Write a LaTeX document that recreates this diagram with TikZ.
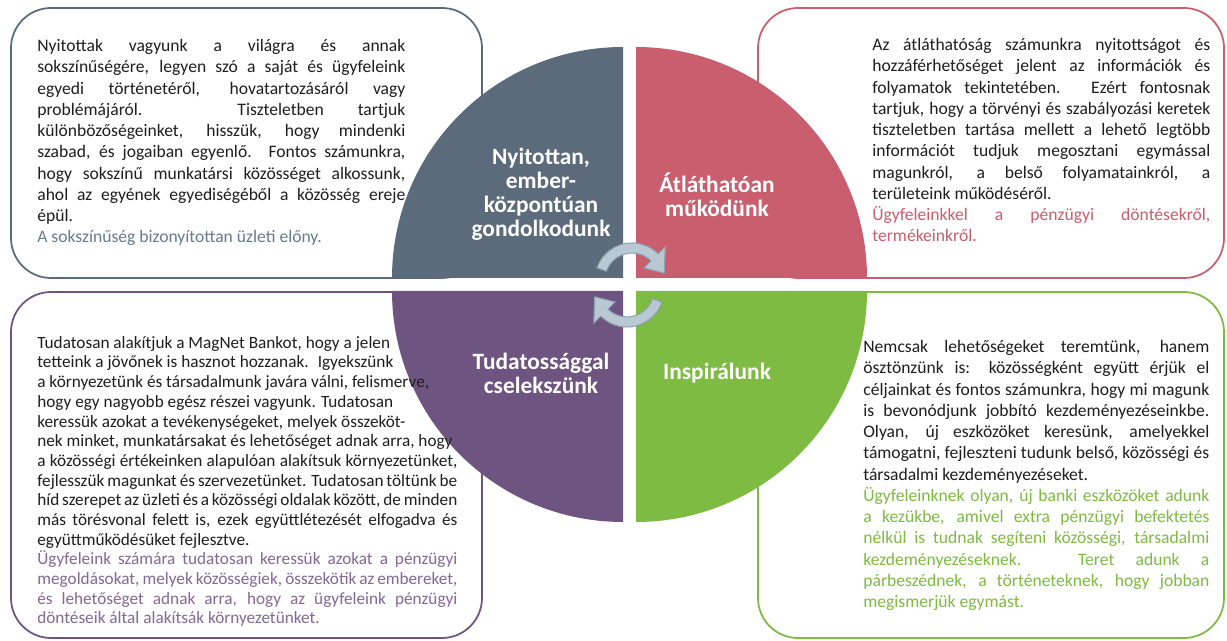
\documentclass[tikz,border=0pt]{standalone}
\usepackage{fontspec}
\setmainfont{Carlito}
\usetikzlibrary{positioning}

\definecolor{slate}{RGB}{91,107,123}
\definecolor{rose}{RGB}{201,94,110}
\definecolor{plum}{RGB}{110,84,128}
\definecolor{leaf}{RGB}{125,187,66}
\definecolor{ink}{RGB}{30,30,30}
\definecolor{slatetext}{RGB}{100,124,143}
\definecolor{plumtext}{RGB}{132,104,150}
\definecolor{arrowfill}{RGB}{186,200,212}
\definecolor{arrowline}{RGB}{140,160,178}

% justified box text, spaces may shrink a bit, no hyphenation
\newcommand\boxfont[2]{\fontsize{#1}{#2}\selectfont
  \spaceskip=.226em plus .6em minus .16em\relax
  \hyphenpenalty=10000\relax}

\tikzset{
  box/.style={line width=1pt, rounded corners=0.8cm, fill=white},
  body/.style={anchor=north west, inner sep=0pt, align=justify, text=ink,
    font=\boxfont{10}{12.1}},
  head/.style={text=white, align=center, inner sep=0pt,
    font=\bfseries\fontsize{13.3}{13.6}\selectfont},
  turn/.style={fill=arrowfill, draw=arrowline, line width=0.6pt}
}

\begin{document}
\begin{tikzpicture}
\useasboundingbox (0,0) rectangle (24.54,12.82);

%outer boxes
\draw[box, draw=slate] (0.22,7.26) rectangle (9.64,12.66);
\draw[box, draw=rose] (15.16,7.26) rectangle (24.48,12.66);
\draw[box, draw=plum] (0.22,0.06) rectangle (9.64,6.98);
\draw[box, draw=leaf] (15.16,0.06) rectangle (24.48,6.98);

%circle quarters
\fill[slate] (12.46,7.26) -- (7.84,7.26) arc (180:90:4.62) -- cycle;
\fill[rose] (12.72,7.26) -- (17.34,7.26) arc (0:90:4.62) -- cycle;
\fill[plum] (12.46,7.00) -- (7.84,7.00) arc (180:270:4.62) -- cycle;
\fill[leaf] (12.72,7.00) -- (17.34,7.00) arc (0:-90:4.62) -- cycle;

%quarter titles
\node[head] (open) at (10.82,8.94) {Nyitottan,\\ember-\\központúan\\gondolkodunk};
\node[head] (clear) at (14.34,8.92) {Átláthatóan\\működünk};
\node[head] (aware) at (10.82,5.36) {Tudatossággal\\cselekszünk};
\node[head] (inspire) at (14.34,5.36) {Inspirálunk};

%turning arrows
\begin{scope}[shift={(12.64,7.22)}]
\filldraw[turn] (161:0.74) arc (161:45:0.74) -- (45:0.94) -- (12:0.66)
  -- (45:0.34) -- (45:0.54) arc (45:161:0.54) -- cycle;
\end{scope}
\begin{scope}[shift={(12.54,7.02)}, rotate=180]
\filldraw[turn] (161:0.74) arc (161:45:0.74) -- (45:0.94) -- (12:0.66)
  -- (45:0.34) -- (45:0.54) arc (45:161:0.54) -- cycle;
\end{scope}

%box texts
\node[body, text width=7.36cm] (opentext) at (0.74,12.04) {Nyitottak vagyunk a világra és annak\linebreak
sokszínűségére, legyen szó a saját és ügyfeleink\linebreak
egyedi történetéről, hovatartozásáról vagy\linebreak
problémájáról. Tiszteletben tartjuk\linebreak
különbözőségeinket, hisszük, hogy mindenki\linebreak
szabad, és jogaiban egyenlő. Fontos számunkra,\linebreak
hogy sokszínű munkatársi közösséget alkossunk,\linebreak
ahol az egyének egyediségéből a közösség ereje\linebreak
épül.\par
{\color{slatetext}A sokszínűség bizonyítottan üzleti előny.}};

\node[body, text width=6.76cm] (cleartext) at (17.44,12.06) {Az átláthatóság számunkra nyitottságot és\linebreak
hozzáférhetőséget jelent az információk és\linebreak
folyamatok tekintetében. Ezért fontosnak\linebreak
tartjuk, hogy a törvényi és szabályozási keretek\linebreak
tiszteletben tartása mellett a lehető legtöbb\linebreak
információt tudjuk megosztani egymással\linebreak
magunkról, a belső folyamatainkról, a\linebreak
területeink működéséről.\par
{\color{rose}Ügyfeleinkkel a pénzügyi döntésekről,\linebreak
termékeinkről.}};

\node[body, text width=8.4cm, font=\boxfont{9.8}{11.2}] (awaretext) at (0.74,6.10) {Tudatosan alakítjuk a MagNet Bankot, hogy a jelen\\
tetteink a jövőnek is hasznot hozzanak.~ Igyekszünk\\
a környezetünk és társadalmunk javára válni, felismerve,\\
hogy egy nagyobb egész részei vagyunk. Tudatosan\\
keressük azokat a tevékenységeket, melyek összeköt-\\
nek minket, munkatársakat és lehetőséget adnak arra, hogy\\
a közösségi értékeinken alapulóan alakítsuk környezetünket,\linebreak
fejlesszük magunkat és szervezetünket. Tudatosan töltünk be\linebreak
híd szerepet az üzleti és a közösségi oldalak között, de minden\linebreak
más törésvonal felett is, ezek együttlétezését elfogadva és\linebreak
együttműködésüket fejlesztve.\par
{\color{plumtext}Ügyfeleink számára tudatosan keressük azokat a pénzügyi\linebreak
megoldásokat, melyek közösségiek, összekötik az embereket,\linebreak
és lehetőséget adnak arra, hogy az ügyfeleink pénzügyi\linebreak
döntéseik által alakítsák környezetünket.}};

\node[body, text width=6.92cm] (inspiretext) at (17.26,6.02) {Nemcsak lehetőségeket teremtünk, hanem\linebreak
ösztönzünk is: közösségként együtt érjük el\linebreak
céljainkat és fontos számunkra, hogy mi magunk\linebreak
is bevonódjunk jobbító kezdeményezéseinkbe.\linebreak
Olyan, új eszközöket keresünk, amelyekkel\linebreak
támogatni, fejleszteni tudunk belső, közösségi és\linebreak
társadalmi kezdeményezéseket.\par
{\color{leaf}Ügyfeleinknek olyan, új banki eszközöket adunk\linebreak
a kezükbe, amivel extra pénzügyi befektetés\linebreak
nélkül is tudnak segíteni közösségi, társadalmi\linebreak
kezdeményezéseknek. Teret adunk a\linebreak
párbeszédnek, a történeteknek, hogy jobban\linebreak
megismerjük egymást.}};
\end{tikzpicture}
\end{document}
